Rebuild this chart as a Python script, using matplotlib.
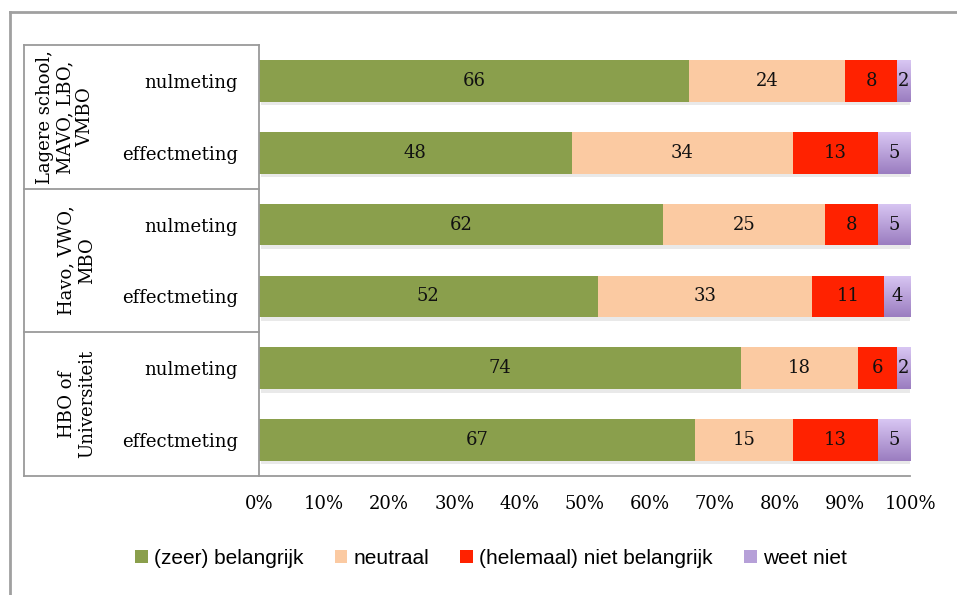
import numpy as np
import matplotlib
matplotlib.use("Agg")
import matplotlib.pyplot as plt
import matplotlib.patheffects as pe
from matplotlib.lines import Line2D
from matplotlib.colors import LinearSegmentedColormap

# data (percentages, top row first)
groups = ["Lagere school,\nMAVO, LBO,\nVMBO", "Havo, VWO,\nMBO", "HBO of\nUniversiteit"]
rows = ["nulmeting", "effectmeting"] * 3
series = ["(zeer) belangrijk", "neutraal", "(helemaal) niet belangrijk", "weet niet"]
zeer = [66, 48, 62, 52, 74, 67]
neutraal = [24, 34, 25, 33, 18, 15]
niet = [8, 13, 8, 11, 6, 13]
weetniet = [2, 5, 5, 4, 2, 5]
colors = ["#8a9f4c", "#fbcaa2", "#ff2200", "#b6a0d8"]
xticks = np.arange(0, 101, 10)

serif = ["DejaVu Serif"]
sans = ["Liberation Sans Narrow", "Liberation Sans", "DejaVu Sans"]

fig = plt.figure(figsize=(9.57, 5.95), dpi=100)
ax = fig.add_axes([0.2706, 0.2, 0.6804, 0.7244])

y = np.arange(len(rows))
left = np.zeros(len(rows))
shadow = [pe.SimplePatchShadow(offset=(1.5, -2.5), shadow_rgbFace="#aaaaaa", alpha=0.25), pe.Normal()]
purple_grad = LinearSegmentedColormap.from_list("pg", ["#d8c6f3", "#9b7dc0"])
for vals, col, name in zip([zeer, neutraal, niet, weetniet], colors, series):
    vals = np.array(vals, dtype=float)
    bars = ax.barh(y, vals, left=left, height=0.58, color=col, label=name, path_effects=shadow)
    if name == "weet niet":
        # light-to-dark vertical gradient like the original
        for b in bars:
            x0, y0 = b.get_x(), b.get_y()
            im = ax.imshow(np.linspace(0, 1, 50).reshape(-1, 1), cmap=purple_grad, aspect="auto",
                           extent=[x0, x0 + b.get_width(), y0 + b.get_height(), y0], zorder=b.get_zorder())
            im.set_clip_path(b)
    for yi, l, v in zip(y, left, vals):
        ax.text(l + v / 2, yi, f"{int(v)}", ha="center", va="center",
                fontsize=13, family=serif, color="#111111", zorder=5)
    left += vals

ax.set_xlim(0, 100)
ax.set_ylim(5.5, -0.5)
ax.set_aspect("auto")
ax.set_xticks(xticks)
ax.set_xticklabels([f"{t}%" for t in xticks], family=serif, fontsize=13)
ax.set_yticks(y)
ax.set_yticklabels(rows, family=serif, fontsize=13)
ax.tick_params(axis="both", length=0)
ax.tick_params(axis="x", pad=14)
ax.tick_params(axis="y", pad=15)
for s in ["top", "right"]:
    ax.spines[s].set_visible(False)
for s in ["left", "bottom"]:
    ax.spines[s].set_color("#9a9a9a")
    ax.spines[s].set_linewidth(1.3)

# table lines on the left
tleft = -0.361
trans = ax.get_yaxis_transform()
for yy in [-0.5, 1.5, 3.5, 5.5]:
    ax.add_line(Line2D([tleft, 0], [yy, yy], transform=trans, color="#9a9a9a", lw=1.3, clip_on=False))
ax.add_line(Line2D([tleft, tleft], [-0.5, 5.5], transform=trans, color="#9a9a9a", lw=1.3, clip_on=False))

group_x = [-0.298, -0.28, -0.28]
for i, g in enumerate(groups):
    ax.text(group_x[i], 2 * i + 0.5, g, transform=trans, rotation=90, ha="center", va="center",
            fontsize=13, family=serif, linespacing=1.15, multialignment="center")

# outer frame (partly cropped)
fig.add_artist(Line2D([10 / 957, 10 / 957], [0, 1 - 12 / 595], color="#a0a0a0", lw=2))
fig.add_artist(Line2D([10 / 957, 1], [1 - 12 / 595, 1 - 12 / 595], color="#a0a0a0", lw=2))

leg = fig.legend(loc="center", bbox_to_anchor=(0.513, 0.062), ncol=4, frameon=False,
                 handlelength=0.6, handleheight=0.6, handletextpad=0.3, columnspacing=1.5,
                 prop={"family": sans, "size": 15})
for h in leg.legend_handles:
    h.set_path_effects([])

fig.savefig("out.png", dpi=100)
